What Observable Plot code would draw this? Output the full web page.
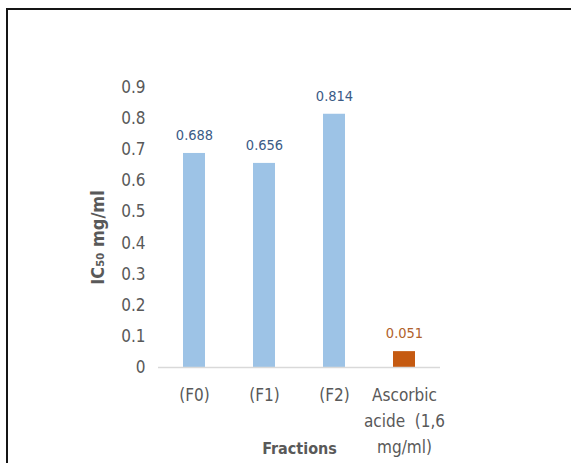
<!DOCTYPE html>
<html>
<head>
<meta charset="utf-8">
<script src="https://cdn.jsdelivr.net/npm/d3@7"></script>
<script src="https://cdn.jsdelivr.net/npm/@observablehq/plot@0.6"></script>
<style>
  html, body { margin: 0; padding: 0; background: #fff; }
  #wrap { position: relative; width: 571px; height: 463px; overflow: hidden; background: #fff; }
  #frame { position: absolute; left: 6px; top: 7.5px; right: -10px; bottom: -10px;
           border-top: 2.5px solid #151515; border-left: 2.5px solid #151515; }
  #chart { position: absolute; left: 0; top: 0; }
</style>
</head>
<body>
<div id="wrap">
  <div id="frame"></div>
  <div id="chart"></div>
</div>
<script>
// IC50 per fraction, with ascorbic acid as reference
const categories = ["(F0)", "(F1)", "(F2)", "Ascorbic acide (1,6 mg/ml)"];
const tickLabels = ["(F0)", "(F1)", "(F2)", "Ascorbic\nacide  (1,6\nmg/ml)"];
const ic50 = [0.688, 0.656, 0.814, 0.051];
const barColors = ["#9dc3e6", "#9dc3e6", "#9dc3e6", "#c55a11"];
const labelColors = ["#3b5b86", "#3b5b86", "#3b5b86", "#b0622c"];
const yTicks = [0, 0.1, 0.2, 0.3, 0.4, 0.5, 0.6, 0.7, 0.8, 0.9];

const rows = categories.map((c, i) => ({
  name: c, tick: tickLabels[i], value: ic50[i], bar: barColors[i], label: labelColors[i]
}));

const font = "'DejaVu Sans Condensed', 'Liberation Sans Narrow', 'Open Sans', sans-serif";

const plot = Plot.plot({
  width: 571,
  height: 463,
  marginLeft: 158,
  marginRight: 131,
  marginTop: 87,
  marginBottom: 96,
  style: { fontFamily: font, background: "transparent", overflow: "visible" },
  x: { domain: categories, paddingInner: 0.69, paddingOuter: 0.345, axis: null },
  y: { domain: [0, 0.9], axis: null },
  marks: [
    Plot.axisY({
      ticks: yTicks, tickSize: 0, tickPadding: 13, label: null,
      fontSize: 17, fill: "#595959", tickFormat: d => String(d)
    }),
    Plot.barY(rows, { x: "name", y: "value", fill: d => d.bar }),
    Plot.ruleY([0], { stroke: "#d9d9d9", strokeWidth: 1.5 }),
    Plot.text(rows, {
      x: "name", y: "value", text: d => d.value.toFixed(3),
      dy: -18, fill: d => d.label, fontSize: 14.5
    }),
    Plot.text(rows, {
      x: "name", text: "tick", frameAnchor: "bottom", lineAnchor: "top",
      dy: 15, lineHeight: 1.53, fontSize: 17, fill: "#595959"
    }),
    Plot.text(["Fractions"], {
      frameAnchor: "bottom", dy: 86, fontSize: 16, fontWeight: "bold", fill: "#595959"
    }),
    Plot.text(["IC₅₀ mg/ml"], {
      frameAnchor: "left", textAnchor: "middle", dx: -60, dy: 10, rotate: -90,
      fontSize: 18, fontWeight: "bold", fill: "#595959"
    })
  ]
});

document.getElementById("chart").appendChild(plot);
</script>
</body>
</html>
